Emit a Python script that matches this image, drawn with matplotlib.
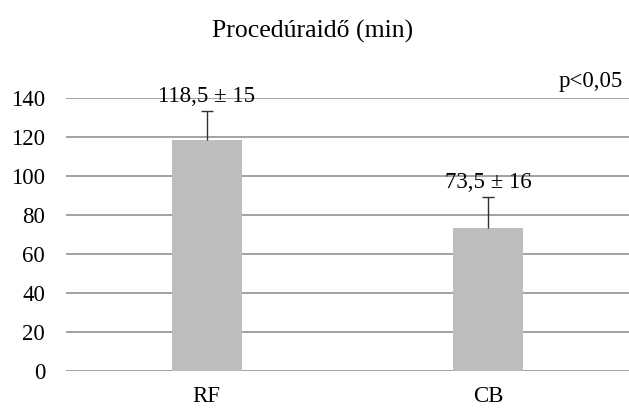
import matplotlib.pyplot as plt
import numpy as np

plt.rcParams['font.family'] = ['Liberation Serif', 'DejaVu Serif']

# Data
categories = ['RF', 'CB']
means = [118.5, 73.5]
sds = [15, 16]
labels = ['118,5 ± 15', '73,5 ± 16']
label_y = [138, 94]

fig = plt.figure(figsize=(6.29, 4.08), dpi=100)
ax = fig.add_axes([0.105, 0.0907, 0.895, 0.669])

x = np.arange(len(categories))
tops = np.array(means) + np.array(sds)
ax.bar(x, means, width=0.25, color='#bcbdbf', zorder=3)
# upper error bars only, cap on top
ax.vlines(x, means, tops, color='#303030', linewidth=1.0, zorder=4)
ax.plot(x, tops, linestyle='none', marker='_', markersize=8,
        markeredgewidth=1.0, color='#303030', zorder=4)

for i in range(len(categories)):
    ax.text(x[i], label_y[i], labels[i], ha='center', va='baseline',
            fontsize=16.5, zorder=5)

ax.set_xlim(-0.5, 1.5)
ax.set_ylim(0, 140)
ax.set_yticks(np.arange(0, 141, 20))
ax.set_xticks(x)
ax.set_xticklabels(categories)
ax.yaxis.grid(True, color='#898989', linewidth=1.1, zorder=0)
ax.set_axisbelow(True)
for s in ax.spines.values():
    s.set_visible(False)
ax.tick_params(axis='both', length=0, labelsize=16.5)
ax.tick_params(axis='y', pad=15)
ax.tick_params(axis='x', pad=11)

fig.text(0.99, 0.80, 'p<0,05', ha='right', va='center', fontsize=16.5)
fig.text(0.497, 0.908, 'Procedúraidő (min)', ha='center', va='baseline', fontsize=18.5)

plt.savefig('out.png', dpi=100)
